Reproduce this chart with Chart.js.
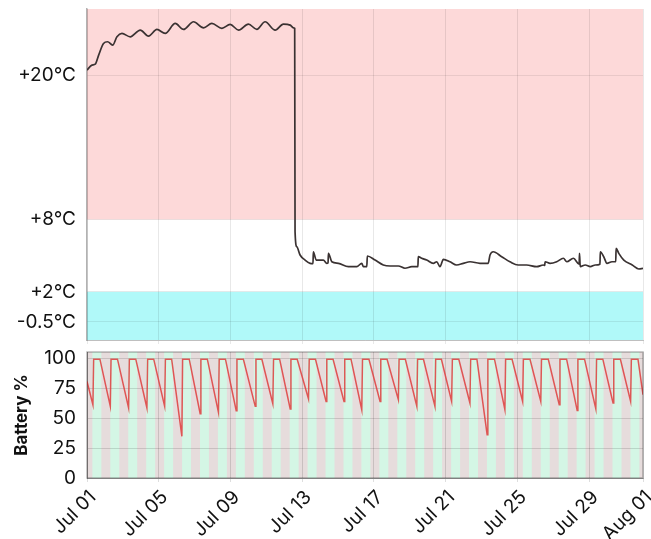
<!DOCTYPE html>
<html><head><meta charset="utf-8">
<script src="https://cdn.jsdelivr.net/npm/chart.js@4.4.1/dist/chart.umd.min.js"></script>
<style>
html,body{margin:0;padding:0;background:#fff;}
#top{position:absolute;left:0;top:0;width:651px;height:347px;}
#bot{position:absolute;left:0;top:347px;width:651px;height:192px;}
</style></head><body>
<div id="top"><canvas id="c1"></canvas></div>
<div id="bot"><canvas id="c2"></canvas></div>
<script>
// ---- data ----
const tickDays = [0, 4, 8, 12, 16, 20, 24, 28, 31];
const tickLabels = ['Jul 01', 'Jul 05', 'Jul 09', 'Jul 13', 'Jul 17', 'Jul 21', 'Jul 25', 'Jul 29', 'Aug 01'];
const tempTicks = [-0.5, 2, 8, 20];
const tempTickLabels = ['-0.5°C', '+2°C', '+8°C', '+20°C'];
const tempBandEdges = [2, 8];
const batteryTicks = [0, 25, 50, 75, 100];

const tempTime = [0,0.28,0.46,0.65,0.92,1.15,1.43,1.67,1.95,2.41,2.97,3.43,3.90,4.36,4.92,5.38,5.94,6.50,6.96,7.52,7.98,8.45,9.00,9.47,9.93,10.49,10.95,11.33,11.51,11.58,11.60,11.70,11.88,12.16,12.44,12.60,12.62,12.78,13.18,13.37,13.44,13.46,13.65,14.02,14.57,15.04,15.32,15.41,15.60,15.63,16.06,16.52,16.90,17.36,17.73,18.11,18.45,18.47,18.66,18.94,19.31,19.50,19.68,19.87,20.24,20.61,20.98,21.36,21.91,22.37,22.47,22.65,23.12,23.58,24.04,24.51,25.07,25.44,25.52,25.54,25.82,26.19,26.56,26.75,27.12,27.44,27.46,27.50,27.78,28.06,28.34,28.60,28.62,28.81,28.99,29.27,29.48,29.50,29.65,29.93,30.40,30.77,31.00];
const tempValue = [20.43,20.84,20.92,21.67,22.64,22.78,22.5,23.19,23.47,23.19,23.75,23.25,23.8,23.47,24.3,23.8,24.44,23.94,24.3,23.89,24.22,23.75,24.25,23.8,24.44,23.75,24.25,24.16,23.94,23.9,7.0,5.75,5.06,4.64,4.37,4.35,5.33,4.64,4.64,4.37,4.4,5.2,4.5,4.37,4.09,4.09,4.37,4.09,4.1,4.98,4.64,4.23,4.15,4.15,3.96,4.09,4.1,4.92,4.79,4.64,4.37,4.5,4.09,4.7,4.5,4.23,4.37,4.5,4.37,4.37,5.06,5.33,4.92,4.5,4.23,4.23,4.09,4.23,4.2,4.5,4.37,4.5,4.79,4.5,4.79,4.3,5.2,4.09,4.23,4.09,4.23,4.3,5.33,4.92,4.37,4.5,4.5,5.62,5.2,4.64,4.23,3.9,3.96];

const batteryTime = [0,0.33,0.37,0.72, 1.30,1.34,1.70, 2.32,2.36,2.72, 3.34,3.38,3.72, 4.33,4.37,4.72, 5.29,5.33,5.70, 6.31,6.35,6.71, 7.33,7.37,7.72, 8.32,8.36,8.72, 9.38,9.42,9.75, 10.36,10.40,10.74, 11.33,11.37,11.72, 12.35,12.39,12.74, 13.33,13.37,13.72, 14.33,14.37,14.72, 15.32,15.36,15.72, 16.34,16.38,16.73, 17.36,17.40,17.75, 18.39,18.43,18.76, 19.40,19.44,19.76, 20.33,20.37,20.73, 21.35,21.39,21.74, 22.31,22.35,22.72, 23.30,23.34,23.70, 24.29,24.33,24.70, 25.30,25.34,25.72, 26.33,26.37,26.74, 27.33,27.37,27.74, 28.37,28.41,28.76, 29.33,29.37,29.74, 30.31,30.35,30.72, 31];
const batteryValue = [80.5,61,99,99, 59.7,99,99, 58.3,99,99, 58.3,99,99, 59.7,99,99, 34.7,99,99, 53.6,99,99, 54.7,99,99, 56.1,99,99, 59.7,99,99, 61.9,99,99, 57.5,99,99, 65.8,99,99, 63.8,99,99, 63.8,99,99, 56.9,99,99, 63.8,99,99, 65.3,99,99, 59.7,99,99, 59.7,99,99, 63.8,99,99, 62.5,99,99, 36.1,99,99, 56.9,99,99, 63.8,99,99, 63.8,99,99, 61.1,99,99, 56.3,99,99, 57.5,99,99, 62.5,99,99, 63.8,99,99, 69.4];

// ---- helpers ----
const FONT = 'Inter, "Open Sans", sans-serif';
const pts = (t, v) => t.map((x, i) => ({x: x, y: v[i]}));
const fixTicks = arr => s => { s.ticks = arr.map(v => ({value: v})); };
const fitW = w => s => { s.width = w; s.paddingTop = 0; s.paddingBottom = 0; };
const fitH = h => s => { s.height = h; s.paddingLeft = 0; s.paddingRight = 0; };

const bandPlugin = {
  id: 'bands',
  beforeDraw(chart) {
    const {ctx, chartArea: a, scales: {y}} = chart;
    const y8 = y.getPixelForValue(tempBandEdges[1]);
    const y2 = y.getPixelForValue(tempBandEdges[0]);
    ctx.save();
    ctx.fillStyle = '#fdd9d9';
    ctx.fillRect(a.left, a.top, a.right - a.left, y8 - a.top);
    ctx.fillStyle = '#ffffff';
    ctx.fillRect(a.left, y8, a.right - a.left, y2 - y8);
    ctx.fillStyle = '#b0f9f9';
    ctx.fillRect(a.left, y2, a.right - a.left, a.bottom - y2);
    ctx.restore();
  }
};

const stripePlugin = {
  id: 'stripes',
  beforeDraw(chart) {
    const {ctx, chartArea: a, scales: {x}} = chart;
    ctx.save();
    ctx.fillStyle = '#e6dcdc';
    ctx.fillRect(a.left, a.top, a.right - a.left, a.bottom - a.top);
    ctx.fillStyle = '#d4f6e5';
    for (let d = 0; d < 31; d++) {
      const x0 = x.getPixelForValue(d + 0.30);
      const x1 = Math.min(x.getPixelForValue(d + 0.80), a.right);
      ctx.fillRect(x0, a.top, x1 - x0, a.bottom - a.top);
    }
    ctx.restore();
  },
  afterDraw(chart) {
    const {ctx, chartArea: a} = chart;
    ctx.save();
    ctx.strokeStyle = 'rgba(0,0,0,0.28)';
    ctx.lineWidth = 1.5;
    ctx.strokeRect(a.left, a.top, a.right - a.left, a.bottom - a.top);
    ctx.restore();
  }
};

Chart.defaults.font.family = FONT;
Chart.defaults.color = '#111';

new Chart(document.getElementById('c1'), {
  type: 'line',
  data: { datasets: [{
    data: pts(tempTime, tempValue),
    borderColor: '#3a3232', borderWidth: 1.7, pointRadius: 0,
    cubicInterpolationMode: 'monotone', fill: false
  }]},
  options: {
    responsive: true, maintainAspectRatio: false, animation: false,
    layout: { padding: { top: 9, right: 8, left: 0, bottom: 0 } },
    plugins: { legend: {display: false}, tooltip: {enabled: false} },
    scales: {
      x: {
        type: 'linear', min: 0, max: 31,
        afterBuildTicks: fixTicks(tickDays),
        ticks: { display: false },
        grid: { color: 'rgba(0,0,0,0.09)', tickLength: 4 },
        border: { color: 'rgba(0,0,0,0.25)' },
        afterFit: fitH(7)
      },
      y: {
        type: 'linear', min: -2, max: 25.5,
        afterBuildTicks: fixTicks(tempTicks),
        ticks: { callback: (v, i) => tempTickLabels[i], font: {size: 19}, padding: 11, autoSkip: false },
        grid: { color: 'rgba(0,0,0,0.08)', drawTicks: false },
        border: { color: 'rgba(0,0,0,0.3)', width: 1.5 },
        afterFit: fitW(87)
      }
    }
  },
  plugins: [bandPlugin]
});

new Chart(document.getElementById('c2'), {
  type: 'line',
  data: { datasets: [{
    data: pts(batteryTime, batteryValue),
    borderColor: 'rgba(222,60,60,0.85)', borderWidth: 1.5, pointRadius: 0,
    tension: 0, fill: false
  }]},
  options: {
    responsive: true, maintainAspectRatio: false, animation: false,
    layout: { padding: { top: 5, right: 8, left: 0, bottom: 0 } },
    plugins: { legend: {display: false}, tooltip: {enabled: false} },
    scales: {
      x: {
        type: 'linear', min: 0, max: 31,
        afterBuildTicks: fixTicks(tickDays),
        ticks: { callback: (v, i) => tickLabels[i], font: {size: 19}, minRotation: 45, maxRotation: 45, autoSkip: false, padding: 4, labelOffset: 6 },
        grid: { color: 'rgba(0,0,0,0.13)', tickLength: 4 },
        border: { color: 'rgba(0,0,0,0.28)' },
        afterFit: fitH(61)
      },
      y: {
        type: 'linear', min: 0, max: 105,
        afterBuildTicks: fixTicks(batteryTicks),
        ticks: { font: {size: 19}, padding: 11, autoSkip: false },
        grid: { color: 'rgba(0,0,0,0.13)', drawTicks: false },
        border: { color: 'rgba(0,0,0,0.28)' },
        title: { display: true, text: 'Battery %', font: {size: 17, weight: 'bold'}, padding: {top: 12, bottom: 0} },
        afterFit: fitW(87)
      }
    }
  },
  plugins: [stripePlugin]
});
</script>
</body></html>
